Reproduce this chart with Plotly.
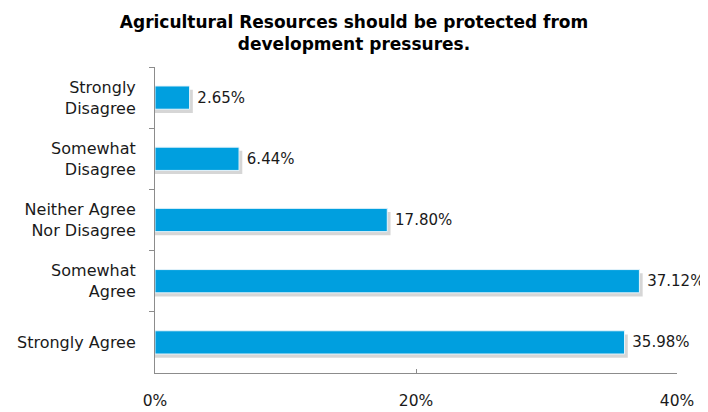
import plotly.graph_objects as go

categories = ["Strongly<br>Disagree", "Somewhat<br>Disagree", "Neither Agree<br>Nor Disagree",
              "Somewhat<br>Agree", "Strongly Agree"]
values = [2.65, 6.44, 17.80, 37.12, 35.98]
x_ticks = [0, 20, 40]
x_tick_labels = ["0%", "20%", "40%"]
title_text = "<b>Agricultural Resources should be protected from<br>development pressures.</b>"

FONT = "DejaVu Sans, Open Sans, sans-serif"
BAR_W = 0.38

# The page body keeps an 8px margin, so the figure is sized 8px smaller
# and the margins below are measured from that offset.
FIG_W, FIG_H = 700, 404

fig = go.Figure()
# soft shadow behind bars
fig.add_trace(go.Bar(
    y=categories, x=[v + 0.25 for v in values], orientation="h",
    width=BAR_W, offset=-BAR_W / 2 + 0.06,
    marker=dict(color="rgba(0,0,0,0.16)", line=dict(width=0)),
    hoverinfo="skip", showlegend=False,
))
fig.add_trace(go.Bar(
    y=categories, x=values, orientation="h",
    width=BAR_W, offset=-BAR_W / 2,
    marker=dict(color="#009FDF", line=dict(color="#E6F4FB", width=1)),
    text=[f"{v:.2f}%" for v in values], textposition="outside",
    texttemplate="\u00a0%{text}",
    textfont=dict(size=15, color="#1a1a1a", family=FONT),
    cliponaxis=False, showlegend=False,
))

fig.update_layout(
    width=FIG_W, height=FIG_H,
    margin=dict(l=147, r=31, t=59, b=39, autoexpand=False),
    barmode="overlay",
    paper_bgcolor="white", plot_bgcolor="white",
    font=dict(family=FONT, size=16, color="#1a1a1a"),
    title=dict(text=title_text, x=346 / FIG_W, xanchor="center",
               y=1 - 19.5 / FIG_H, yanchor="middle", yref="container",
               font=dict(size=17, color="#000000", family=FONT)),
    xaxis=dict(range=[0, 40], tickvals=x_ticks, ticktext=x_tick_labels, automargin=False,
               showgrid=False, zeroline=False, showline=True, linecolor="#8c8c8c",
               linewidth=1, ticks="inside", ticklen=4, tickcolor="#8c8c8c",
               ticklabelstandoff=13, tickfont=dict(size=15.5)),
    yaxis=dict(autorange="reversed", showgrid=False, zeroline=False, showline=True,
               automargin=False,
               linecolor="#8c8c8c", linewidth=1, ticks="outside", ticklen=5,
               tickcolor="#8c8c8c", tickson="boundaries", ticklabelstandoff=15,
               tickfont=dict(size=16)),
)

fig.write_html("out.html")
